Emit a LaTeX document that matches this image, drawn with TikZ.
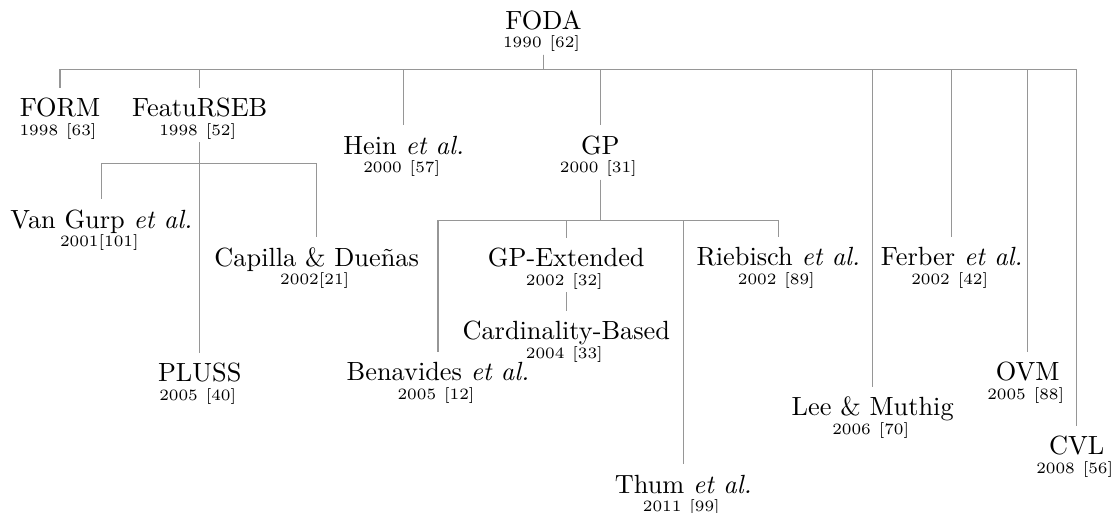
\documentclass[tikz,border=0pt]{standalone}
\definecolor{linkgray}{RGB}{150,150,150}
% small font for the year / reference line
\newcommand\yrfont{\fontsize{6}{7}\selectfont}
% name on the first line, year and citation below it
\newcommand\entrytext[2]{\begin{tabular}[t]{@{}c@{}}#1\\[-5pt]{\yrfont #2\kern1.5pt}\end{tabular}}
\newcommand\yc[2]{#1\hspace{3pt}[#2]}
\tikzset{
  entry/.style={inner sep=0pt, anchor=base, text height=10.8pt, text depth=9.5pt},
  link/.style={draw=linkgray, line width=0.4pt}
}
\begin{document}
\begin{tikzpicture}[x=0.38pt,y=-0.38pt]
\useasboundingbox (0,0) rectangle (1112,513);

% entries
\node[entry] (foda)      at (543.5,29.3)  {\entrytext{FODA}{\yc{1990}{62}}};
\node[entry] (form)      at (60,116.7)    {\entrytext{FORM}{\yc{1998}{63}}};
\node[entry] (featurseb) at (199.7,116.7) {\entrytext{FeatuRSEB}{\yc{1998}{52}}};
\node[entry] (hein)      at (403.7,154.3) {\entrytext{Hein \textit{et al.}}{\yc{2000}{57}}};
\node[entry] (gp)        at (600.3,154.3) {\entrytext{GP}{\yc{2000}{31}}};
\node[entry] (vangurp)   at (101.3,228.3) {\entrytext{Van Gurp \textit{et al.}}{2001[101]}};
\node[entry] (capilla)   at (316.7,266.3) {\entrytext{Capilla \& Dueñas}{2002[21]}};
\node[entry] (gpext)     at (566.3,266.7) {\entrytext{GP-Extended}{\yc{2002}{32}}};
\node[entry] (riebisch)  at (778.3,265.7) {\entrytext{Riebisch \textit{et al.}}{\yc{2002}{89}}};
\node[entry] (ferber)    at (951.7,265.7) {\entrytext{Ferber \textit{et al.}}{\yc{2002}{42}}};
\node[entry] (card)      at (566.3,340)   {\entrytext{Cardinality-Based}{\yc{2004}{33}}};
\node[entry] (pluss)     at (199.7,381.7) {\entrytext{PLUSS}{\yc{2005}{40}}};
\node[entry] (benavides) at (438,380.7)   {\entrytext{Benavides \textit{et al.}}{\yc{2005}{12}}};
\node[entry] (ovm)       at (1027.7,381)  {\entrytext{OVM}{\yc{2005}{88}}};
\node[entry] (lee)       at (872.7,415.7) {\entrytext{Lee \& Muthig}{\yc{2006}{70}}};
\node[entry] (cvl)       at (1076.7,455)  {\entrytext{CVL}{\yc{2008}{56}}};
\node[entry] (thum)      at (683.3,493.3) {\entrytext{Thum \textit{et al.}}{\yc{2011}{99}}};

% FODA and its descendants
\foreach \c in {form,featurseb,hein,gp,lee,ferber,ovm,cvl}
  \draw[link] (foda.south) -- ++(0,14.7) -| (\c.north);

% FeatuRSEB branch
\draw[link] (featurseb.south) -- (pluss.north);
\foreach \c in {vangurp,capilla}
  \draw[link] (featurseb.south) -- ++(0,21.6) -| (\c.north);

% GP branch
\foreach \c in {benavides,gpext,thum,riebisch}
  \draw[link] (gp.south) -- ++(0,40.7) -| (\c.north);
\draw[link] (gpext.south) -- (card.north);
\end{tikzpicture}
\end{document}
